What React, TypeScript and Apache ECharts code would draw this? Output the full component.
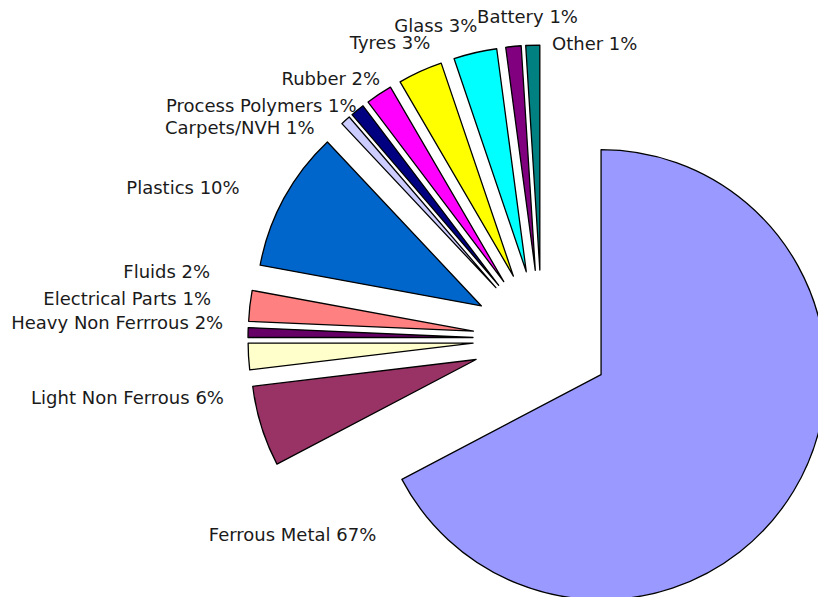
import React, { useEffect, useRef } from "react";
import * as echarts from "echarts";

const categories = [
  "Ferrous Metal",
  "Light Non Ferrous",
  "Heavy Non Ferrrous",
  "Electrical Parts",
  "Fluids",
  "Plastics",
  "Carpets/NVH",
  "Process Polymers",
  "Rubber",
  "Tyres",
  "Glass",
  "Battery",
  "Other",
];
const shares = [67.3, 5.8, 1.9, 0.7, 2.2, 10.1, 0.7, 1.0, 1.9, 3.2, 3.1, 1.1, 1.0];

const sliceColors = [
  "#9999FF", "#993366", "#FFFFCC", "#660066", "#FF8080", "#0066CC",
  "#CCCCFF", "#000080", "#FF00FF", "#FFFF00", "#00FFFF", "#800080", "#008080",
];

// label placement (layout only): centre of each label text
const labelCx = [292.5, 127.5, 117.2, 127.2, 166.7, 183, 239.8, 261.3, 330.8, 390, 435.8, 527.5, 594.7];
const labelCy = [534, 397.5, 322, 298, 271.3, 187.5, 127.5, 105, 78, 42, 25, 16.5, 43.3];

export default function App() {
  const ref = useRef<HTMLDivElement>(null);
  useEffect(() => {
    if (!ref.current) return;
    const chart = echarts.init(ref.current, undefined, { renderer: "svg" });
    const total = shares.reduce((a, b) => a + b, 0);
    chart.setOption({
      animation: false,
      backgroundColor: "#ffffff",
      graphic: categories.map((name, i) => ({
        type: "text",
        x: labelCx[i],
        y: labelCy[i],
        z: 0,
        silent: true,
        style: {
          text: `${name} ${Math.round((shares[i] / total) * 100)}%`,
          font: "18px 'DejaVu Sans'",
          fill: "#1a1a1a",
          textAlign: "center",
          textVerticalAlign: "middle",
        },
      })),
      series: [
        {
          type: "pie",
          center: [542, 339],
          radius: 225,
          startAngle: 90,
          clockwise: true,
          selectedMode: "multiple",
          selectedOffset: 69,
          avoidLabelOverlap: false,
          z: 2,
          itemStyle: { borderColor: "#000", borderWidth: 1.3 },
          select: { itemStyle: { borderColor: "#000", borderWidth: 1.3 } },
          emphasis: { disabled: true },
          label: { show: false },
          labelLine: { show: false },
          data: categories.map((name, i) => ({
            name,
            value: shares[i],
            selected: true,
            itemStyle: { color: sliceColors[i] },
          })),
        },
      ],
    });
    return () => chart.dispose();
  }, []);
  return (
    <div
      ref={ref}
      style={{ position: "fixed", left: 0, top: 0, width: 818, height: 597 }}
    />
  );
}
